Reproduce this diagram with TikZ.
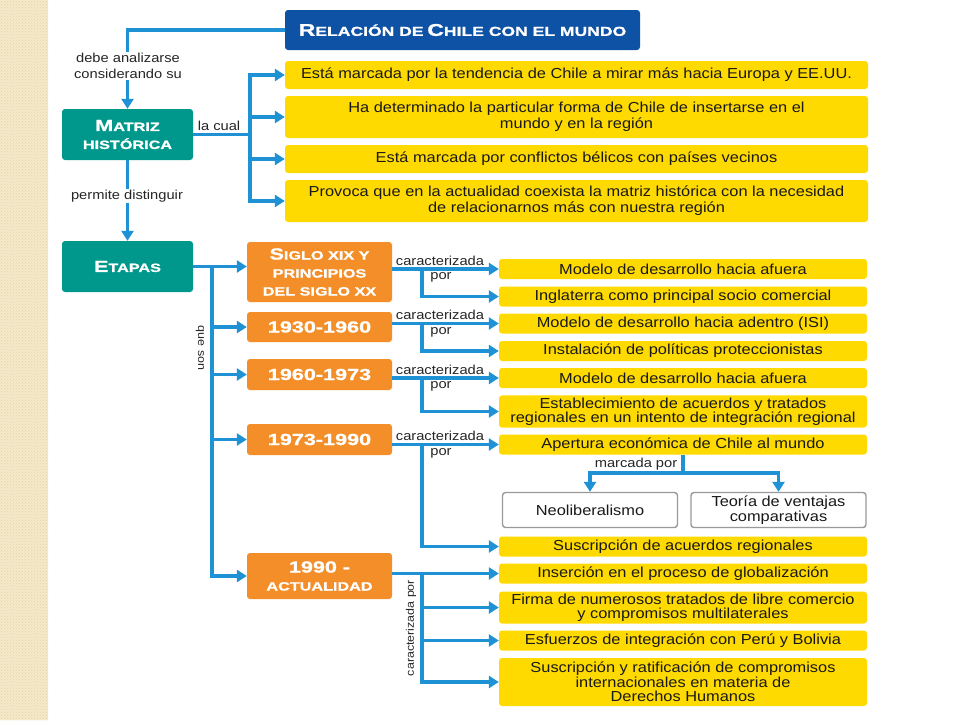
\documentclass[tikz,border=0pt]{standalone}
\usepackage{fontspec}
\setmainfont{Liberation Sans}[FakeStretch=1.13]
\newfontfamily\headfont{Liberation Sans}[FakeStretch=1.35,BoldFeatures={FakeBold=1.2}]
\usetikzlibrary{arrows.meta,patterns,positioning}
\definecolor{linkblue}{RGB}{30,146,212}
\definecolor{titleblue}{RGB}{14,82,166}
\definecolor{tealbox}{RGB}{0,152,140}
\definecolor{orangebox}{RGB}{244,142,40}
\definecolor{yellowbox}{RGB}{255,218,0}
\definecolor{stripbeige}{RGB}{244,233,201}
\definecolor{stripdot}{RGB}{228,212,168}
\newcommand{\headbig}[1]{{\fontsize{16}{18}\selectfont #1}}
\newcommand{\lowcap}[1]{{\fontsize{12}{18}\selectfont #1}}
\newcommand{\titlebig}[1]{{\fontsize{17}{20}\selectfont #1}}
\newcommand{\titlelow}[1]{{\fontsize{13}{20}\selectfont #1}}

\begin{document}
\begin{tikzpicture}[x=1pt,y=-1pt,
    box/.style={rounded corners=3pt, inner sep=2pt, align=center},
    titlebox/.style={box, fill=titleblue, text=white, font=\headfont\bfseries},
    headbox/.style={box, text=white, font=\headfont\bfseries\fontsize{16}{18}\selectfont},
    tealnode/.style={headbox, fill=tealbox, minimum width=131pt, minimum height=51pt},
    stage/.style={headbox, fill=orangebox, minimum width=145pt},
    ybox/.style={box, fill=yellowbox, text=black!90},
    wide/.style={ybox, minimum width=583pt, font=\fontsize{14.5}{16}\selectfont},
    item/.style={ybox, minimum width=368pt, font=\fontsize{14.5}{14.5}\selectfont},
    greybox/.style={box, draw=black!40, line width=1.4pt, fill=white, text=black!90,
        minimum width=175pt, minimum height=35pt, font=\fontsize{14.5}{14.5}\selectfont},
    lbl/.style={inner sep=1pt, text=black!85, align=center, font=\fontsize{13}{16}\selectfont},
    sidelbl/.style={lbl, font=\fontsize{11}{13}\selectfont},
    line/.style={draw=linkblue, line width=3.2pt},
    link/.style={line, -{Triangle[length=10pt,width=12pt]}}]

    \useasboundingbox (0,0) rectangle (960,720);
    % left strip
    \fill[stripbeige] (0,0) rectangle (48,720);
    \fill[pattern=crosshatch dots, pattern color=stripdot] (0,0) rectangle (48,720);

    % main boxes
    \node[titlebox, minimum width=355pt, minimum height=40pt] (rel) at (462.5,30)
        {\titlebig{R}\titlelow{ELACIÓN DE} \titlebig{C}\titlelow{HILE CON EL MUNDO}};
    \node[tealnode] (matriz) at (127.5,134.5) {\headbig{M}\lowcap{ATRIZ}\\\lowcap{HISTÓRICA}};
    \node[tealnode] (etapas) at (127.5,266.5) {\headbig{E}\lowcap{TAPAS}};

    % matriz historica
    \node[wide, minimum height=28pt] (m1) at (576.5,75)
        {Está marcada por la tendencia de Chile a mirar más hacia Europa y EE.UU.};
    \node[wide, minimum height=42pt] (m2) at (576.5,117)
        {Ha determinado la particular forma de Chile de insertarse en el\\mundo y en la región};
    \node[wide, minimum height=28pt] (m3) at (576.5,159)
        {Está marcada por conflictos bélicos con países vecinos};
    \node[wide, minimum height=42pt] (m4) at (576.5,201)
        {Provoca que en la actualidad coexista la matriz histórica con la necesidad\\de relacionarnos más con nuestra región};

    % etapas
    \node[stage, minimum height=60pt] (siglo) at (319.5,272)
        {\headbig{S}\lowcap{IGLO XIX Y}\\\lowcap{PRINCIPIOS}\\\lowcap{DEL SIGLO XX}};
    \node[stage, minimum height=30pt] (e1930) at (319.5,327) {1930-1960};
    \node[stage, minimum height=31pt] (e1960) at (319.5,374.5) {1960-1973};
    \node[stage, minimum height=31pt] (e1973) at (319.5,439.5) {1973-1990};
    \node[stage, minimum height=46pt] (e1990) at (319.5,576) {1990 -\\\lowcap{ACTUALIDAD}};

    \node[item, minimum height=20pt] (s1a) at (683,269) {Modelo de desarrollo hacia afuera};
    \node[item, minimum height=20pt] (s1b) at (683,296.5) {Inglaterra como principal socio comercial};
    \node[item, minimum height=20pt] (s2a) at (683,323.5) {Modelo de desarrollo hacia adentro (ISI)};
    \node[item, minimum height=20pt] (s2b) at (683,351) {Instalación de políticas proteccionistas};
    \node[item, minimum height=20pt] (s3a) at (683,378) {Modelo de desarrollo hacia afuera};
    \node[item, minimum height=31pt] (s3b) at (683,411.5)
        {Establecimiento de acuerdos y tratados\\regionales en un intento de integración regional};
    \node[item, minimum height=20pt] (s4a) at (683,444.5) {Apertura económica de Chile al mundo};
    \node[greybox] (s4neo) at (590,510) {Neoliberalismo};
    \node[greybox] (s4teo) at (778.5,510) {Teoría de ventajas\\comparativas};
    \node[item, minimum height=20pt] (s4b) at (683,546.5) {Suscripción de acuerdos regionales};
    \node[item, minimum height=20pt] (s5a) at (683,573.5) {Inserción en el proceso de globalización};
    \node[item, minimum height=31pt] (s5b) at (683,607.5)
        {Firma de numerosos tratados de libre comercio\\y compromisos multilaterales};
    \node[item, minimum height=20pt] (s5c) at (683,640.5) {Esfuerzos de integración con Perú y Bolivia};
    \node[item, minimum height=48pt] (s5d) at (683,682)
        {Suscripción y ratificación de compromisos\\internacionales en materia de\\Derechos Humanos};

    % connectors
    \coordinate (mb) at (250,0);
    \coordinate (tr) at (212,0);
    \coordinate (br) at (422,0);
    \coordinate (mk) at (683,473);

    \draw[link] (rel.west) -| (matriz.north);
    \node[lbl, fill=white] at (128,66) {debe analizarse\\considerando su};
    \draw[link] (matriz.south) -- (etapas.north);
    \node[lbl, fill=white] at (127,196) {permite distinguir};

    \draw[line] (matriz.east) -- (matriz.east -| mb);
    \foreach \m in {m1,m2,m3,m4}
        \draw[link] (matriz.east -| mb) |- (\m.west);
    \node[lbl] at (219,126) {la cual};

    \draw[link] (etapas.east) -- (etapas.east -| siglo.west);
    \foreach \e in {e1930,e1960,e1973,e1990}
        \draw[link] (etapas.east -| tr) |- (\e.west);
    \node[sidelbl, rotate=-90] at (200,348) {que son};

    \foreach \e/\a/\b in {siglo/s1a/s1b, e1930/s2a/s2b, e1960/s3a/s3b, e1973/s4a/s4b} {
        \draw[link] (\e.east |- \a) -- (\a.west);
        \draw[link] (br |- \a) |- (\b.west);
        \path (br |- \a) ++(18,-2.5) node[lbl, anchor=south] {caracterizada};
        \path (br |- \a) ++(19,2.5) node[lbl, anchor=north] {por};
    }

    \draw[line] (s4a.south) -- (mk);
    \draw[link] (mk) -| (s4neo.north);
    \draw[link] (mk) -| (s4teo.north);
    \node[lbl] at (636,464) {marcada por};

    \draw[link] (e1990.east |- s5a) -- (s5a.west);
    \foreach \b in {s5b,s5c,s5d}
        \draw[link] (br |- s5a) |- (\b.west);
    \node[sidelbl, rotate=90] at (411,628) {caracterizada por};
\end{tikzpicture}
\end{document}
